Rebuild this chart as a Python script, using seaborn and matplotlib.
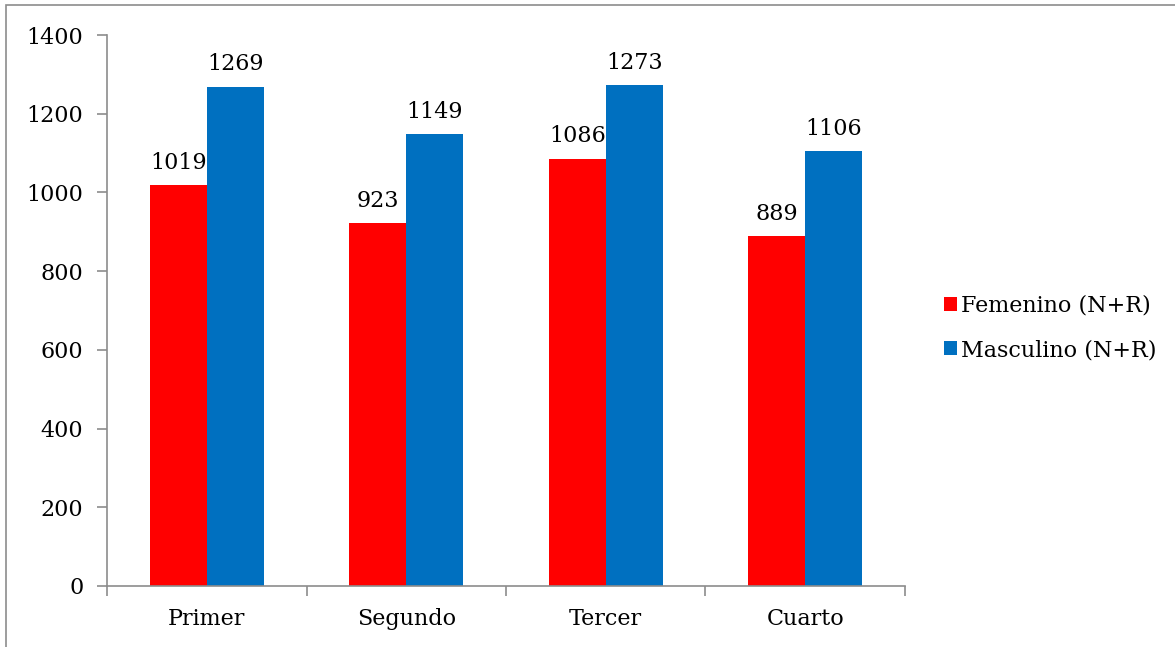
import numpy as np
import pandas as pd
import seaborn as sns
import matplotlib.pyplot as plt
from matplotlib.patches import Rectangle

# Datos del gráfico
trimestres = ['Primer', 'Segundo', 'Tercer', 'Cuarto']
femenino = [1019, 923, 1086, 889]
masculino = [1269, 1149, 1273, 1106]
series = ['Femenino (N+R)', 'Masculino (N+R)']
colores = ['#FF0000', '#0070C0']

df = pd.DataFrame({
    'trimestre': trimestres * 2,
    'valor': femenino + masculino,
    'serie': [series[0]] * len(trimestres) + [series[1]] * len(trimestres),
})

sns.set_style('white')
plt.rcParams['font.family'] = ['DejaVu Serif']
plt.rcParams['text.color'] = 'black'
plt.rcParams['xtick.color'] = 'black'
plt.rcParams['ytick.color'] = 'black'

fig = plt.figure(figsize=(11.75, 6.47), dpi=100)
ax = fig.add_axes([0.0911, 0.0943, 0.6791, 0.8516])

sns.barplot(data=df, x='trimestre', y='valor', hue='serie', palette=colores,
            width=0.57, saturation=1, linewidth=0, ax=ax, legend=True)

fs = 16
for cont in ax.containers:
    ax.bar_label(cont, padding=8, fontsize=fs)

ax.set_ylim(0, 1400)
ax.set_yticks(np.arange(0, 1401, 200))
ax.set_xlim(-0.5, 3.5)
ax.set_xlabel('')
ax.set_ylabel('')

gris = '#8c8c8c'
for lado in ['top', 'right']:
    ax.spines[lado].set_visible(False)
for lado in ['left', 'bottom']:
    ax.spines[lado].set_color(gris)
    ax.spines[lado].set_linewidth(1.2)

ax.tick_params(axis='y', which='major', left=True, length=7, color=gris,
               width=1.2, labelsize=fs, pad=10)
ax.tick_params(axis='x', which='major', bottom=False, labelsize=fs, pad=12)
ax.set_xticks(np.arange(-0.5, 3.6, 1), minor=True)
ax.tick_params(axis='x', which='minor', bottom=True, length=7, color=gris, width=1.2)

leg = ax.legend(loc='center left', bbox_to_anchor=(0.786, 0.493),
                bbox_transform=fig.transFigure, frameon=False, fontsize=fs,
                handlelength=0.6, handleheight=0.6, handletextpad=0.2,
                labelspacing=1.0)

# marco del área del gráfico
fig.patches.append(Rectangle((0.005, -0.1), 1.2, 1.092, transform=fig.transFigure,
                             fill=False, edgecolor=gris, linewidth=1.2))

fig.savefig('out.png', dpi=100)
